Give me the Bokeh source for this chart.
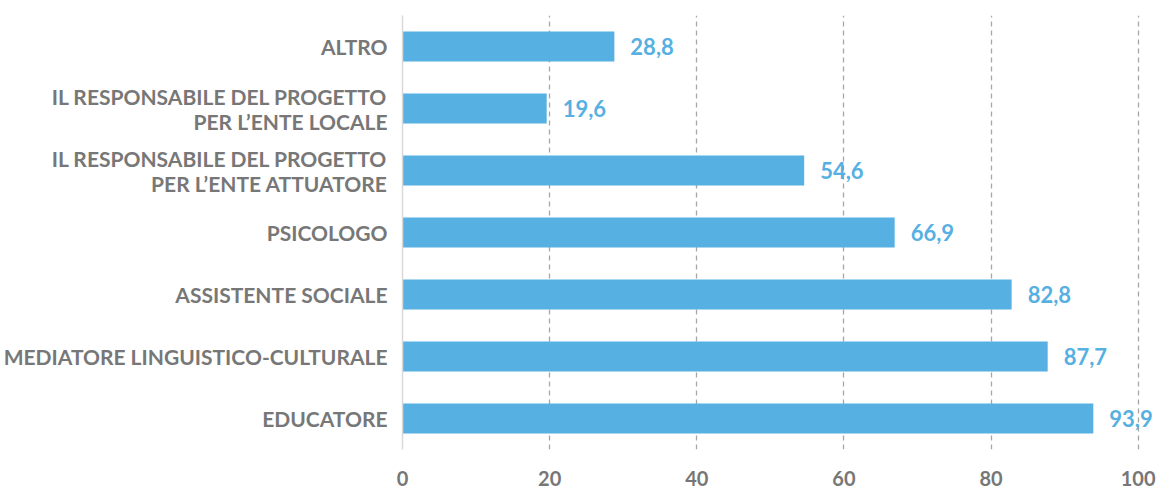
from bokeh.plotting import figure
from bokeh.models import ColumnDataSource, FixedTicker, LabelSet
from bokeh.core.properties import value
from bokeh.embed import file_html
from bokeh.resources import INLINE

categories = [
    "EDUCATORE",
    "MEDIATORE LINGUISTICO-CULTURALE",
    "ASSISTENTE SOCIALE",
    "PSICOLOGO",
    "IL RESPONSABILE DEL PROGETTO\nPER L\u2019ENTE ATTUATORE",
    "IL RESPONSABILE DEL PROGETTO\nPER L\u2019ENTE LOCALE",
    "ALTRO",
]
values = [93.9, 87.7, 82.8, 66.9, 54.6, 19.6, 28.8]
value_labels = ["93,9", "87,7", "82,8", "66,9", "54,6", "19,6", "28,8"]
x_ticks = [0, 20, 40, 60, 80, 100]

BAR = "#56B0E2"
GRAY = "#777777"
FONT = "Lato"

src = ColumnDataSource(dict(cat=categories, val=values, lab=value_labels))

p = figure(
    y_range=categories, x_range=(0, 102.9),
    frame_width=757, frame_height=434,
    output_backend="svg", toolbar_location=None,
    min_border_left=380, min_border_right=0, min_border_top=15, min_border_bottom=30,
)
p.outline_line_color = None
p.background_fill_color = "white"

p.hbar(y="cat", right="val", left=0, height=0.48, source=src,
       fill_color=BAR, line_color=None)

labels = LabelSet(x="val", y="cat", text="lab", source=src,
                  x_offset=16, text_align="left", text_baseline="middle",
                  text_color=BAR, text_font=value(FONT), text_font_style="bold",
                  text_font_size="22px")
p.add_layout(labels)

p.xaxis.ticker = FixedTicker(ticks=x_ticks)
p.xaxis.axis_line_color = None
p.xaxis.major_tick_line_color = None
p.xaxis.minor_tick_line_color = None
p.xaxis.major_label_text_font = FONT
p.xaxis.major_label_text_font_style = "bold"
p.xaxis.major_label_text_font_size = "20px"
p.xaxis.major_label_text_color = GRAY
p.xaxis.major_label_standoff = 15

p.yaxis.axis_line_color = "#D9D9D9"
p.yaxis.axis_line_width = 1.5
p.yaxis.major_tick_line_color = None
p.yaxis.minor_tick_line_color = None
p.yaxis.major_label_text_font = FONT
p.yaxis.major_label_text_font_style = "bold"
p.yaxis.major_label_text_font_size = "21px"
p.yaxis.major_label_text_color = GRAY
p.yaxis.major_label_text_line_height = 1.0
p.yaxis.major_label_standoff = 9

p.ygrid.grid_line_color = None
p.xgrid.grid_line_color = "#A6A6A6"
p.xgrid.grid_line_dash = "5 4"
p.xgrid.grid_line_width = 1.3

open("out.html", "w").write(file_html(p, INLINE))
